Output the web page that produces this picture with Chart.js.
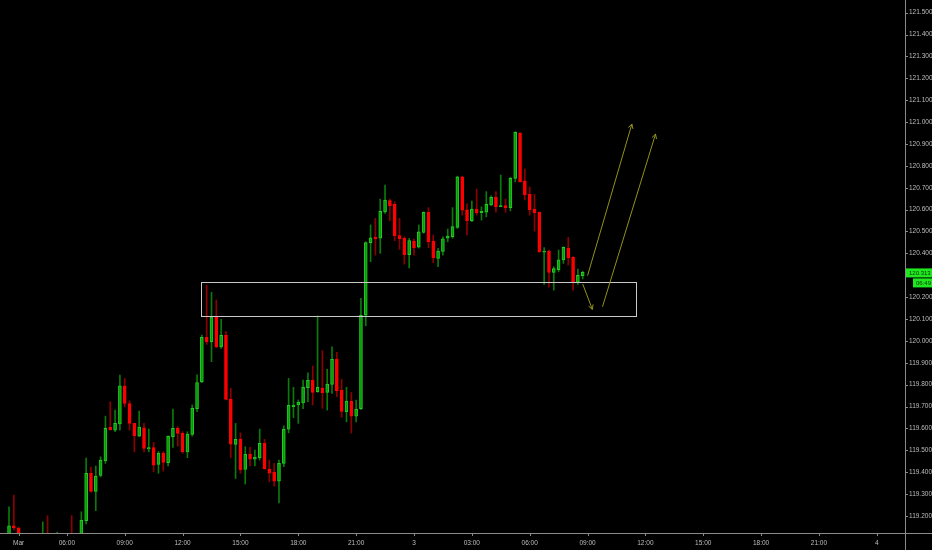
<!DOCTYPE html>
<html>
<head>
<meta charset="utf-8">
<script src="https://cdn.jsdelivr.net/npm/chart.js@4/dist/chart.umd.min.js"></script>
<style>
  html, body { margin: 0; padding: 0; background: #000; }
  canvas { display: block; }
</style>
</head>
<body>
<canvas id="chart" width="932" height="550"></canvas>
<script>
// 15 minute candles, bar index counted from 00:00 Mar 2 (one bar = 15 min)
const firstBar = 12;
const opens = [
  119.108, 119.155, 119.145, 119.090, 119.070, 119.080, 119.060, 119.080, 119.100, 119.070,
  119.090, 119.110, 119.080, 119.100, 119.080, 119.100, 119.178, 119.395, 119.312, 119.385,
  119.452, 119.605, 119.592, 119.620, 119.794, 119.714, 119.623, 119.565, 119.603, 119.506,
  119.512, 119.436, 119.486, 119.443, 119.562, 119.600, 119.577, 119.493, 119.573, 119.690,
  119.813, 120.016, 119.996, 120.110, 119.973, 120.025, 119.734, 119.527, 119.550, 119.413,
  119.483, 119.460, 119.466, 119.532, 119.414, 119.400, 119.359, 119.440, 119.596, 119.699,
  119.707, 119.716, 119.786, 119.820, 119.768, 119.784, 119.765, 119.801, 119.916, 119.774,
  119.676, 119.725, 119.656, 119.690, 120.117, 120.449, 120.473, 120.469, 120.590, 120.641,
  120.624, 120.481, 120.469, 120.394, 120.456, 120.428, 120.496, 120.588, 120.456, 120.377,
  120.409, 120.469, 120.476, 120.519, 120.750, 120.599, 120.549, 120.603, 120.586, 120.588,
  120.621, 120.656, 120.613, 120.618, 120.609, 120.743, 120.950, 120.731, 120.670, 120.603,
  120.588, 120.406, 120.411, 120.313, 120.325, 120.370, 120.424, 120.382, 120.268, 120.298
];
const highs = [
  119.242, 119.295, 119.149, 119.100, 119.090, 119.100, 119.090, 119.173, 119.201, 119.100,
  119.125, 119.120, 119.110, 119.201, 119.110, 119.219, 119.464, 119.422, 119.428, 119.470,
  119.656, 119.722, 119.684, 119.844, 119.828, 119.726, 119.624, 119.679, 119.623, 119.597,
  119.536, 119.495, 119.493, 119.566, 119.688, 119.608, 119.585, 119.585, 119.707, 119.845,
  120.027, 120.255, 120.222, 120.187, 120.098, 120.042, 119.783, 119.623, 119.580, 119.516,
  119.513, 119.501, 119.597, 119.550, 119.455, 119.440, 119.455, 119.612, 119.829, 119.788,
  119.730, 119.821, 119.854, 119.885, 120.114, 119.955, 119.870, 119.973, 119.948, 119.824,
  119.788, 119.764, 119.730, 120.194, 120.453, 120.530, 120.560, 120.648, 120.712, 120.648,
  120.636, 120.560, 120.476, 120.469, 120.466, 120.530, 120.590, 120.609, 120.484, 120.423,
  120.476, 120.511, 120.609, 120.753, 120.753, 120.626, 120.639, 120.694, 120.613, 120.682,
  120.663, 120.682, 120.758, 120.648, 120.748, 120.956, 120.953, 120.785, 120.703, 120.670,
  120.590, 120.426, 120.415, 120.339, 120.415, 120.430, 120.473, 120.385, 120.328, 120.319
];
const lows = [
  119.090, 119.135, 119.067, 119.050, 119.040, 119.050, 119.040, 119.060, 119.050, 119.050,
  119.070, 119.070, 119.050, 119.060, 119.060, 119.080, 119.163, 119.309, 119.224, 119.378,
  119.440, 119.592, 119.585, 119.592, 119.699, 119.592, 119.493, 119.562, 119.493, 119.493,
  119.402, 119.395, 119.405, 119.429, 119.513, 119.519, 119.486, 119.466, 119.565, 119.676,
  119.809, 119.984, 119.905, 119.969, 119.966, 119.730, 119.467, 119.371, 119.395, 119.346,
  119.429, 119.429, 119.455, 119.413, 119.356, 119.336, 119.260, 119.425, 119.580, 119.649,
  119.623, 119.690, 119.722, 119.707, 119.765, 119.692, 119.684, 119.760, 119.745, 119.651,
  119.630, 119.579, 119.630, 119.686, 120.069, 120.362, 120.392, 120.400, 120.583, 120.549,
  120.458, 120.418, 120.351, 120.334, 120.392, 120.424, 120.492, 120.426, 120.357, 120.339,
  120.392, 120.453, 120.469, 120.514, 120.575, 120.484, 120.545, 120.575, 120.552, 120.567,
  120.618, 120.588, 120.613, 120.588, 120.594, 120.727, 120.725, 120.644, 120.575, 120.502,
  120.405, 120.258, 120.245, 120.232, 120.316, 120.354, 120.347, 120.232, 120.258, 120.283
];
const closes = [
  119.155, 119.145, 119.090, 119.070, 119.080, 119.060, 119.080, 119.100, 119.070, 119.090,
  119.110, 119.080, 119.100, 119.080, 119.100, 119.180, 119.395, 119.312, 119.382, 119.455,
  119.600, 119.594, 119.623, 119.795, 119.714, 119.623, 119.566, 119.606, 119.509, 119.512,
  119.432, 119.486, 119.445, 119.565, 119.600, 119.577, 119.493, 119.574, 119.692, 119.810,
  120.016, 119.995, 120.110, 119.973, 120.025, 119.733, 119.528, 119.550, 119.412, 119.483,
  119.459, 119.469, 119.532, 119.416, 119.395, 119.359, 119.440, 119.596, 119.705, 119.707,
  119.719, 119.789, 119.820, 119.765, 119.788, 119.763, 119.803, 119.916, 119.771, 119.678,
  119.725, 119.656, 119.688, 120.117, 120.449, 120.471, 120.466, 120.592, 120.644, 120.618,
  120.481, 120.467, 120.394, 120.458, 120.426, 120.499, 120.588, 120.453, 120.380, 120.411,
  120.467, 120.479, 120.522, 120.750, 120.598, 120.550, 120.603, 120.586, 120.592, 120.624,
  120.656, 120.612, 120.618, 120.609, 120.743, 120.953, 120.727, 120.667, 120.599, 120.586,
  120.407, 120.411, 120.313, 120.330, 120.370, 120.428, 120.380, 120.269, 120.300, 120.313
];

const xTickBars = [14, 24, 36, 48, 60, 72, 84, 96, 108, 120, 132, 144, 156, 168, 180, 192];
const xTickLabels = ['Mar', '06:00', '09:00', '12:00', '15:00', '18:00', '21:00', '3',
  '03:00', '06:00', '09:00', '12:00', '15:00', '18:00', '21:00', '4'];
const yTickValues = [119.2, 119.3, 119.4, 119.5, 119.6, 119.7, 119.8, 119.9, 120.0, 120.1,
  120.2, 120.3, 120.4, 120.5, 120.6, 120.7, 120.8, 120.9, 121.0, 121.1, 121.2, 121.3, 121.4, 121.5];

// support zone and the two projected moves (bar index, price)
const zoneBox = [51.9, 120.271, 142.0, 120.112];
const arrowFrom = [[132.0, 120.298], [131.0, 120.260], [135.1, 120.156]];
const arrowTo = [[141.2, 120.991], [133.0, 120.144], [146.1, 120.945]];
const lastPrice = '120.313';
const countdown = '06:49';

const upBody = '#0c980c', upEdge = '#22cc22', upWick = '#0b7a0b';
const downBody = '#ff0000', downWick = '#8e0000';
const textColor = '#bdbdbd';
const fontFamily = "'Liberation Sans Narrow', 'Liberation Sans', sans-serif";
const axisFont = { family: fontFamily, size: 6.5 };

const bars = opens.map((o, i) => firstBar + i);
const isUp = opens.map((o, i) => closes[i] >= o);

const overlay = {
  id: 'overlay',
  beforeDraw(chart) {
    const c = chart.ctx;
    c.save();
    c.fillStyle = '#000';
    c.fillRect(0, 0, chart.width, chart.height);
    c.restore();
  },
  afterDatasetsDraw(chart) {
    const c = chart.ctx, x = chart.scales.x, y = chart.scales.y;
    c.save();
    // zone rectangle
    const x1 = Math.round(x.getPixelForValue(zoneBox[0])) + 0.5;
    const y1 = Math.round(y.getPixelForValue(zoneBox[1])) + 0.5;
    const x2 = Math.round(x.getPixelForValue(zoneBox[2])) + 0.5;
    const y2 = Math.round(y.getPixelForValue(zoneBox[3])) + 0.5;
    c.strokeStyle = '#c9c9c9';
    c.lineWidth = 1;
    c.strokeRect(x1, y1, x2 - x1, y2 - y1);
    // arrows
    c.strokeStyle = '#92921a';
    arrowFrom.forEach((f, i) => {
      const t = arrowTo[i];
      const ax = x.getPixelForValue(f[0]), ay = y.getPixelForValue(f[1]);
      const bx = x.getPixelForValue(t[0]), by = y.getPixelForValue(t[1]);
      c.beginPath();
      c.moveTo(ax, ay);
      c.lineTo(bx, by);
      const ang = Math.atan2(by - ay, bx - ax);
      const h = 5;
      c.moveTo(bx - h * Math.cos(ang - 0.5), by - h * Math.sin(ang - 0.5));
      c.lineTo(bx, by);
      c.lineTo(bx - h * Math.cos(ang + 0.5), by - h * Math.sin(ang + 0.5));
      c.stroke();
    });
    c.restore();
  },
  afterDraw(chart) {
    const c = chart.ctx, x = chart.scales.x, y = chart.scales.y, a = chart.chartArea;
    c.save();
    c.strokeStyle = '#8a8a8a';
    c.lineWidth = 1;
    c.beginPath();
    c.moveTo(0, a.bottom + 0.5);
    c.lineTo(chart.width, a.bottom + 0.5);
    c.moveTo(a.right + 0.5, 0);
    c.lineTo(a.right + 0.5, chart.height);
    xTickBars.forEach(v => {
      const px = Math.round(x.getPixelForValue(v)) + 0.5;
      c.moveTo(px, a.bottom);
      c.lineTo(px, a.bottom + 3);
    });
    yTickValues.forEach(v => {
      const py = Math.round(y.getPixelForValue(v)) + 0.5;
      c.moveTo(a.right, py);
      c.lineTo(a.right + 3, py);
    });
    c.stroke();
    // last price and countdown labels
    const py = y.getPixelForValue(parseFloat(lastPrice));
    c.fillStyle = '#1fe81f';
    c.fillRect(a.right + 1, py - 4, chart.width - a.right - 1, 9);
    c.fillRect(a.right + 8, py + 6, chart.width - a.right - 8, 9);
    c.fillStyle = '#103010';
    c.font = '6px ' + fontFamily;
    c.textBaseline = 'middle';
    c.textAlign = 'left';
    c.fillText(lastPrice, a.right + 4, py + 0.5);
    c.fillText(countdown, a.right + 11, py + 10.5);
    c.restore();
  }
};

new Chart(document.getElementById('chart'), {
  type: 'bar',
  data: {
    datasets: [{
      label: 'body',
      data: bars.map((b, i) => ({ x: b, y: [opens[i], closes[i]] })),
      backgroundColor: isUp.map(u => u ? upBody : downBody),
      borderColor: isUp.map(u => u ? upEdge : downBody),
      borderWidth: 1,
      borderSkipped: false,
      barThickness: 3,
      minBarLength: 1,
      grouped: false,
      order: 0
    }, {
      label: 'wick',
      data: bars.map((b, i) => ({ x: b, y: [lows[i], highs[i]] })),
      backgroundColor: isUp.map(u => u ? upWick : downWick),
      borderWidth: 0,
      barThickness: 1,
      grouped: false,
      order: 1
    }]
  },
  options: {
    responsive: false,
    animation: false,
    layout: { padding: 0 },
    plugins: { legend: { display: false }, tooltip: { enabled: false } },
    scales: {
      x: {
        type: 'linear',
        min: 10.13,
        max: 197.85,
        offset: false,
        grid: { display: false, drawTicks: false },
        border: { display: false },
        afterBuildTicks: s => { s.ticks = xTickBars.map(v => ({ value: v })); },
        afterFit: s => { s.height = 17; s.paddingLeft = 0; s.paddingRight = 0; },
        ticks: {
          autoSkip: false,
          maxRotation: 0,
          padding: 6,
          color: textColor,
          font: axisFont,
          callback: v => xTickLabels[xTickBars.indexOf(v)]
        }
      },
      y: {
        position: 'right',
        min: 119.122,
        max: 121.558,
        grid: { display: false, drawTicks: false },
        border: { display: false },
        afterBuildTicks: s => { s.ticks = yTickValues.map(v => ({ value: v })); },
        afterFit: s => { s.width = 27; s.paddingTop = 0; s.paddingBottom = 0; },
        ticks: {
          autoSkip: false,
          padding: 4,
          color: textColor,
          font: axisFont,
          callback: v => v.toFixed(3)
        }
      }
    }
  },
  plugins: [overlay]
});
</script>
</body>
</html>
